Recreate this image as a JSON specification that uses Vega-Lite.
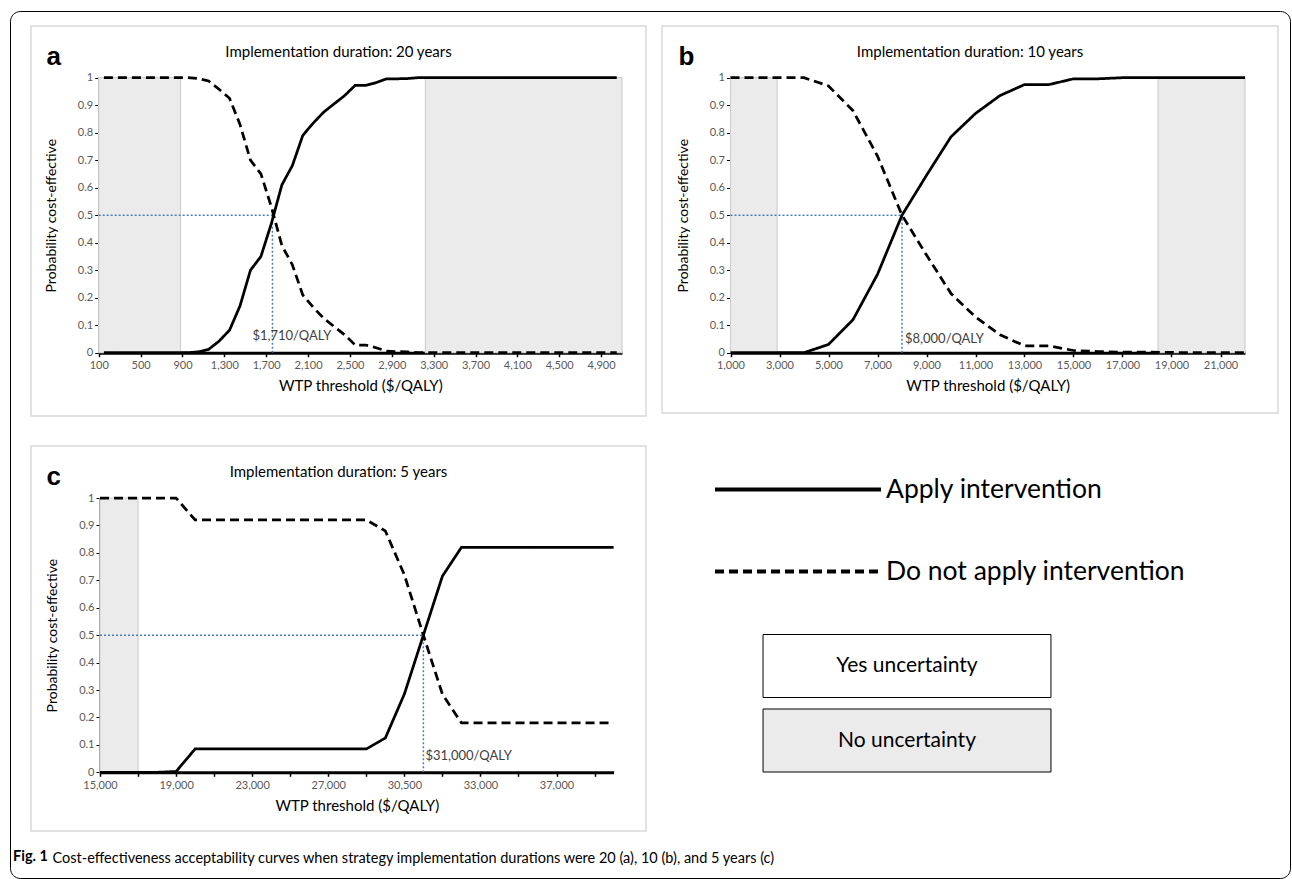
{
"$schema": "https://vega.github.io/schema/vega-lite/v6.json",
"background": "white",
"padding": {"left": 9, "top": 10, "right": 2, "bottom": 2},
"title": {"text": "Fig. 1", "orient": "bottom", "anchor": "start", "frame": "group", "offset": -29, "dx": -18, "fontSize": 14.5, "fontWeight": "bold", "font": "Lato", "color": "black"},
"datasets": {
"curves_a": [
{"wtp":100,"Apply intervention":0,"Do not apply intervention":1},
{"wtp":200,"Apply intervention":0,"Do not apply intervention":1},
{"wtp":300,"Apply intervention":0,"Do not apply intervention":1},
{"wtp":400,"Apply intervention":0,"Do not apply intervention":1},
{"wtp":500,"Apply intervention":0,"Do not apply intervention":1},
{"wtp":600,"Apply intervention":0,"Do not apply intervention":1},
{"wtp":700,"Apply intervention":0,"Do not apply intervention":1},
{"wtp":800,"Apply intervention":0,"Do not apply intervention":1},
{"wtp":900,"Apply intervention":0,"Do not apply intervention":1},
{"wtp":1000,"Apply intervention":0.003,"Do not apply intervention":0.997},
{"wtp":1100,"Apply intervention":0.012,"Do not apply intervention":0.988},
{"wtp":1200,"Apply intervention":0.042,"Do not apply intervention":0.958},
{"wtp":1300,"Apply intervention":0.082,"Do not apply intervention":0.925},
{"wtp":1400,"Apply intervention":0.17,"Do not apply intervention":0.83},
{"wtp":1500,"Apply intervention":0.3,"Do not apply intervention":0.7},
{"wtp":1600,"Apply intervention":0.35,"Do not apply intervention":0.65},
{"wtp":1700,"Apply intervention":0.47,"Do not apply intervention":0.53},
{"wtp":1800,"Apply intervention":0.61,"Do not apply intervention":0.39},
{"wtp":1900,"Apply intervention":0.68,"Do not apply intervention":0.32},
{"wtp":2000,"Apply intervention":0.79,"Do not apply intervention":0.21},
{"wtp":2100,"Apply intervention":0.835,"Do not apply intervention":0.165},
{"wtp":2200,"Apply intervention":0.875,"Do not apply intervention":0.125},
{"wtp":2300,"Apply intervention":0.905,"Do not apply intervention":0.095},
{"wtp":2400,"Apply intervention":0.935,"Do not apply intervention":0.065},
{"wtp":2500,"Apply intervention":0.972,"Do not apply intervention":0.028},
{"wtp":2600,"Apply intervention":0.972,"Do not apply intervention":0.028},
{"wtp":2700,"Apply intervention":0.982,"Do not apply intervention":0.018},
{"wtp":2800,"Apply intervention":0.996,"Do not apply intervention":0.006},
{"wtp":2900,"Apply intervention":0.996,"Do not apply intervention":0.004},
{"wtp":3000,"Apply intervention":0.997,"Do not apply intervention":0.003},
{"wtp":3100,"Apply intervention":1,"Do not apply intervention":0},
{"wtp":3200,"Apply intervention":1,"Do not apply intervention":0},
{"wtp":3300,"Apply intervention":1,"Do not apply intervention":0},
{"wtp":3400,"Apply intervention":1,"Do not apply intervention":0},
{"wtp":3500,"Apply intervention":1,"Do not apply intervention":0},
{"wtp":3600,"Apply intervention":1,"Do not apply intervention":0},
{"wtp":3700,"Apply intervention":1,"Do not apply intervention":0},
{"wtp":3800,"Apply intervention":1,"Do not apply intervention":0},
{"wtp":3900,"Apply intervention":1,"Do not apply intervention":0},
{"wtp":4000,"Apply intervention":1,"Do not apply intervention":0},
{"wtp":4100,"Apply intervention":1,"Do not apply intervention":0},
{"wtp":4200,"Apply intervention":1,"Do not apply intervention":0},
{"wtp":4300,"Apply intervention":1,"Do not apply intervention":0},
{"wtp":4400,"Apply intervention":1,"Do not apply intervention":0},
{"wtp":4500,"Apply intervention":1,"Do not apply intervention":0},
{"wtp":4600,"Apply intervention":1,"Do not apply intervention":0},
{"wtp":4700,"Apply intervention":1,"Do not apply intervention":0},
{"wtp":4800,"Apply intervention":1,"Do not apply intervention":0},
{"wtp":4900,"Apply intervention":1,"Do not apply intervention":0},
{"wtp":5000,"Apply intervention":1,"Do not apply intervention":0}
],
"shade_a": [{"from": 50, "to": 832, "p_lo": 0, "p_hi": 1, "uncertainty": "No uncertainty"}, {"from": 3172, "to": 5050, "p_lo": 0, "p_hi": 1, "uncertainty": "No uncertainty"}],
"cross_a": [{"start": 50, "wtp": 1710, "p": 0.5, "p0": 0, "label_p": 0.06, "label": "$1,710/QALY"}],
"curves_b": [
{"wtp":1000,"Apply intervention":0,"Do not apply intervention":1},
{"wtp":2000,"Apply intervention":0,"Do not apply intervention":1},
{"wtp":3000,"Apply intervention":0,"Do not apply intervention":1},
{"wtp":4000,"Apply intervention":0,"Do not apply intervention":1},
{"wtp":5000,"Apply intervention":0.03,"Do not apply intervention":0.97},
{"wtp":6000,"Apply intervention":0.12,"Do not apply intervention":0.88},
{"wtp":7000,"Apply intervention":0.285,"Do not apply intervention":0.715},
{"wtp":8000,"Apply intervention":0.5,"Do not apply intervention":0.5},
{"wtp":9000,"Apply intervention":0.645,"Do not apply intervention":0.355},
{"wtp":10000,"Apply intervention":0.785,"Do not apply intervention":0.215},
{"wtp":11000,"Apply intervention":0.87,"Do not apply intervention":0.13},
{"wtp":12000,"Apply intervention":0.935,"Do not apply intervention":0.065},
{"wtp":13000,"Apply intervention":0.975,"Do not apply intervention":0.025},
{"wtp":14000,"Apply intervention":0.975,"Do not apply intervention":0.025},
{"wtp":15000,"Apply intervention":0.996,"Do not apply intervention":0.008},
{"wtp":16000,"Apply intervention":0.996,"Do not apply intervention":0.004},
{"wtp":17000,"Apply intervention":1,"Do not apply intervention":0.002},
{"wtp":18000,"Apply intervention":1,"Do not apply intervention":0.002},
{"wtp":19000,"Apply intervention":1,"Do not apply intervention":0.001},
{"wtp":20000,"Apply intervention":1,"Do not apply intervention":0},
{"wtp":21000,"Apply intervention":1,"Do not apply intervention":0},
{"wtp":22000,"Apply intervention":1,"Do not apply intervention":0}
],
"shade_b": [{"from": 1000, "to": 2900, "p_lo": 0, "p_hi": 1, "uncertainty": "No uncertainty"}, {"from": 18450, "to": 22000, "p_lo": 0, "p_hi": 1, "uncertainty": "No uncertainty"}],
"cross_b": [{"start": 1000, "wtp": 8000, "p": 0.5, "p0": 0, "label_p": 0.05, "label": "$8,000/QALY"}],
"curves_c": [
{"wtp":15000,"Apply intervention":0,"Do not apply intervention":1},
{"wtp":16000,"Apply intervention":0,"Do not apply intervention":1},
{"wtp":17000,"Apply intervention":0,"Do not apply intervention":1},
{"wtp":18000,"Apply intervention":0,"Do not apply intervention":1},
{"wtp":19000,"Apply intervention":0.003,"Do not apply intervention":1},
{"wtp":20000,"Apply intervention":0.085,"Do not apply intervention":0.92},
{"wtp":21000,"Apply intervention":0.085,"Do not apply intervention":0.92},
{"wtp":22000,"Apply intervention":0.085,"Do not apply intervention":0.92},
{"wtp":23000,"Apply intervention":0.085,"Do not apply intervention":0.92},
{"wtp":24000,"Apply intervention":0.085,"Do not apply intervention":0.92},
{"wtp":25000,"Apply intervention":0.085,"Do not apply intervention":0.92},
{"wtp":26000,"Apply intervention":0.085,"Do not apply intervention":0.92},
{"wtp":27000,"Apply intervention":0.085,"Do not apply intervention":0.92},
{"wtp":28000,"Apply intervention":0.085,"Do not apply intervention":0.92},
{"wtp":29000,"Apply intervention":0.085,"Do not apply intervention":0.92},
{"wtp":30000,"Apply intervention":0.125,"Do not apply intervention":0.88},
{"wtp":30500,"Apply intervention":0.285,"Do not apply intervention":0.72},
{"wtp":31000,"Apply intervention":0.5,"Do not apply intervention":0.5},
{"wtp":31500,"Apply intervention":0.715,"Do not apply intervention":0.285},
{"wtp":32000,"Apply intervention":0.82,"Do not apply intervention":0.18},
{"wtp":33000,"Apply intervention":0.82,"Do not apply intervention":0.18},
{"wtp":34000,"Apply intervention":0.82,"Do not apply intervention":0.18},
{"wtp":35000,"Apply intervention":0.82,"Do not apply intervention":0.18},
{"wtp":36000,"Apply intervention":0.82,"Do not apply intervention":0.18},
{"wtp":37000,"Apply intervention":0.82,"Do not apply intervention":0.18},
{"wtp":38000,"Apply intervention":0.82,"Do not apply intervention":0.18},
{"wtp":39000,"Apply intervention":0.82,"Do not apply intervention":0.18},
{"wtp":40000,"Apply intervention":0.82,"Do not apply intervention":0.18}
],
"shade_c": [{"from": 15000, "to": 17000, "p_lo": 0, "p_hi": 1, "uncertainty": "No uncertainty"}],
"cross_c": [{"start": 15000, "wtp": 31000, "p": 0.5, "p0": 0, "label_p": 0.058, "label": "$31,000/QALY"}]
},
"resolve": {"scale": {"strokeDash": "independent", "fill": "independent"}, "legend": {"strokeDash": "independent", "fill": "independent"}},
"spacing": 28,
"vconcat": [
{
"spacing": 14,
"hconcat": [
{
"width": 615, "height": 390,
"title": {"text": "Implementation duration: 20 years", "anchor": "middle", "frame": "group", "offset": -34, "fontSize": 15, "fontWeight": "normal", "color": "black", "font": "Lato"},
"resolve": {"axis": {"x": "independent", "y": "independent"}},
"layer": [
{"data": {"name": "shade_a"},
 "mark": {"type": "rect", "stroke": "#d0d0d0", "strokeWidth": 1.2},
 "encoding": {
  "x": {"field": "from", "type": "quantitative", "scale": {"domain": [50, 5050], "range": [67.7, 591], "nice": false, "zero": false}, "axis": null},
  "x2": {"field": "to"},
  "y": {"field": "p_lo", "type": "quantitative", "scale": {"domain": [0, 1], "range": [326.7, 51.7], "nice": false, "zero": false}, "axis": null},
  "y2": {"field": "p_hi"},
  "fill": {"field": "uncertainty", "type": "nominal", "scale": {"domain": ["Yes uncertainty", "No uncertainty"], "range": ["#ffffff", "#ebebeb"]}, "legend": null}}},
{"data": {"name": "cross_a"},
 "mark": {"type": "rule", "color": "#4a7ebb", "strokeWidth": 1.5, "strokeDash": [2, 2]},
 "encoding": {
  "x": {"field": "start", "type": "quantitative", "scale": {"domain": [50, 5050], "range": [67.7, 591], "nice": false, "zero": false}, "axis": null},
  "x2": {"field": "wtp"},
  "y": {"field": "p", "type": "quantitative", "scale": {"domain": [0, 1], "range": [326.7, 51.7], "nice": false, "zero": false}, "axis": null}}},
{"data": {"name": "cross_a"},
 "mark": {"type": "rule", "color": "#4a7ebb", "strokeWidth": 1.5, "strokeDash": [2, 2]},
 "encoding": {
  "x": {"field": "wtp", "type": "quantitative", "scale": {"domain": [50, 5050], "range": [67.7, 591], "nice": false, "zero": false}, "axis": null},
  "y": {"field": "p0", "type": "quantitative", "scale": {"domain": [0, 1], "range": [326.7, 51.7], "nice": false, "zero": false}, "axis": null},
  "y2": {"field": "p"}}},
{"data": {"name": "curves_a"},
 "transform": [{"fold": ["Apply intervention", "Do not apply intervention"], "as": ["strategy", "p"]}],
 "mark": {"type": "line", "color": "black", "strokeWidth": 2.75},
 "encoding": {
  "x": {"field": "wtp", "type": "quantitative", "scale": {"domain": [50, 5050], "range": [67.7, 591], "nice": false, "zero": false},
        "axis": {"orient": "bottom", "offset": -63.3, "values": [100,500,900,1300,1700,2100,2500,2900,3300,3700,4100,4500,4900], "format": ",.0f", "title": "WTP threshold ($/QALY)", "tickOffset": -5.2, "domainWidth": 3, "tickWidth": 1.5, "titlePadding": 8, "labelPadding": 3}},
  "y": {"field": "p", "type": "quantitative", "scale": {"domain": [0, 1], "range": [326.7, 51.7], "nice": false, "zero": false},
        "axis": {"orient": "left", "offset": -67.7, "values": [0,0.1,0.2,0.3,0.4,0.5,0.6,0.7,0.8,0.9,1], "format": ".1~f", "title": "Probability cost-effective", "domainWidth": 2, "titlePadding": 19, "titleFontSize": 14}},
  "strokeDash": {"field": "strategy", "type": "nominal", "scale": {"domain": ["Apply intervention", "Do not apply intervention"], "range": [[1, 0], [9, 5]]}, "legend": null}}},
{"data": {"name": "cross_a"},
 "mark": {"type": "text", "align": "left", "baseline": "middle", "dx": -20, "fontSize": 13, "color": "#404040", "font": "Lato"},
 "encoding": {
  "x": {"field": "wtp", "type": "quantitative", "scale": {"domain": [50, 5050], "range": [67.7, 591], "nice": false, "zero": false},
        "axis": {"orient": "top", "domain": false, "ticks": false, "labels": false, "title": "a", "titleFont": "Liberation Sans", "titleFontWeight": "bold", "titleFontSize": 26, "titleColor": "black", "titleX": 15, "titleY": 38, "titleAlign": "left", "titleBaseline": "alphabetic", "titleAngle": 0}},
  "y": {"field": "label_p", "type": "quantitative", "scale": {"domain": [0, 1], "range": [326.7, 51.7], "nice": false, "zero": false}, "axis": null},
  "text": {"field": "label"}}}
]
},
{
"width": 616, "height": 387,
"title": {"text": "Implementation duration: 10 years", "anchor": "middle", "frame": "group", "offset": -34, "fontSize": 15, "fontWeight": "normal", "color": "black", "font": "Lato"},
"resolve": {"axis": {"x": "independent", "y": "independent"}},
"layer": [
{"data": {"name": "shade_b"},
 "mark": {"type": "rect", "stroke": "#d0d0d0", "strokeWidth": 1.2},
 "encoding": {
  "x": {"field": "from", "type": "quantitative", "scale": {"domain": [1000, 22000], "range": [68.5, 583], "nice": false, "zero": false}, "axis": null},
  "x2": {"field": "to"},
  "y": {"field": "p_lo", "type": "quantitative", "scale": {"domain": [0, 1], "range": [326.7, 51.7], "nice": false, "zero": false}, "axis": null},
  "y2": {"field": "p_hi"},
  "fill": {"field": "uncertainty", "type": "nominal", "scale": {"domain": ["Yes uncertainty", "No uncertainty"], "range": ["#ffffff", "#ebebeb"]}, "legend": null}}},
{"data": {"name": "cross_b"},
 "mark": {"type": "rule", "color": "#4a7ebb", "strokeWidth": 1.5, "strokeDash": [2, 2]},
 "encoding": {
  "x": {"field": "start", "type": "quantitative", "scale": {"domain": [1000, 22000], "range": [68.5, 583], "nice": false, "zero": false}, "axis": null},
  "x2": {"field": "wtp"},
  "y": {"field": "p", "type": "quantitative", "scale": {"domain": [0, 1], "range": [326.7, 51.7], "nice": false, "zero": false}, "axis": null}}},
{"data": {"name": "cross_b"},
 "mark": {"type": "rule", "color": "#4a7ebb", "strokeWidth": 1.5, "strokeDash": [2, 2]},
 "encoding": {
  "x": {"field": "wtp", "type": "quantitative", "scale": {"domain": [1000, 22000], "range": [68.5, 583], "nice": false, "zero": false}, "axis": null},
  "y": {"field": "p0", "type": "quantitative", "scale": {"domain": [0, 1], "range": [326.7, 51.7], "nice": false, "zero": false}, "axis": null},
  "y2": {"field": "p"}}},
{"data": {"name": "curves_b"},
 "transform": [{"fold": ["Apply intervention", "Do not apply intervention"], "as": ["strategy", "p"]}],
 "mark": {"type": "line", "color": "black", "strokeWidth": 2.75},
 "encoding": {
  "x": {"field": "wtp", "type": "quantitative", "scale": {"domain": [1000, 22000], "range": [68.5, 583], "nice": false, "zero": false},
        "axis": {"orient": "bottom", "offset": -60.3, "values": [1000,3000,5000,7000,9000,11000,13000,15000,17000,19000,21000], "format": ",.0f", "title": "WTP threshold ($/QALY)", "domainWidth": 3, "tickWidth": 1.5, "titlePadding": 8, "labelPadding": 3}},
  "y": {"field": "p", "type": "quantitative", "scale": {"domain": [0, 1], "range": [326.7, 51.7], "nice": false, "zero": false},
        "axis": {"orient": "left", "offset": -68.5, "values": [0,0.1,0.2,0.3,0.4,0.5,0.6,0.7,0.8,0.9,1], "format": ".1~f", "title": "Probability cost-effective", "domainWidth": 2, "titlePadding": 19, "titleFontSize": 14}},
  "strokeDash": {"field": "strategy", "type": "nominal", "scale": {"domain": ["Apply intervention", "Do not apply intervention"], "range": [[1, 0], [9, 5]]}, "legend": null}}},
{"data": {"name": "cross_b"},
 "mark": {"type": "text", "align": "left", "baseline": "middle", "dx": 3, "fontSize": 13, "color": "#404040", "font": "Lato"},
 "encoding": {
  "x": {"field": "wtp", "type": "quantitative", "scale": {"domain": [1000, 22000], "range": [68.5, 583], "nice": false, "zero": false},
        "axis": {"orient": "top", "domain": false, "ticks": false, "labels": false, "title": "b", "titleFont": "Liberation Sans", "titleFontWeight": "bold", "titleFontSize": 26, "titleColor": "black", "titleX": 16, "titleY": 38, "titleAlign": "left", "titleBaseline": "alphabetic", "titleAngle": 0}},
  "y": {"field": "label_p", "type": "quantitative", "scale": {"domain": [0, 1], "range": [326.7, 51.7], "nice": false, "zero": false}, "axis": null},
  "text": {"field": "label"}}}
]
}
]
},
{
"width": 615, "height": 385,
"title": {"text": "Implementation duration: 5 years", "anchor": "middle", "frame": "group", "offset": -34, "fontSize": 15, "fontWeight": "normal", "color": "black", "font": "Lato"},
"resolve": {"axis": {"x": "independent", "y": "independent"}},
"layer": [
{"data": {"name": "shade_c"},
 "mark": {"type": "rect", "stroke": "#d0d0d0", "strokeWidth": 1.2},
 "encoding": {
  "x": {"field": "from", "type": "ordinal", "scale": {"type": "point", "domain": [15000,16000,17000,18000,19000,20000,21000,22000,23000,24000,25000,26000,27000,28000,29000,30000,30500,31000,31500,32000,33000,34000,35000,36000,37000,38000,39000,40000], "range": [69, 582.6], "padding": 0}, "axis": null},
  "x2": {"field": "to"},
  "y": {"field": "p_lo", "type": "quantitative", "scale": {"domain": [0, 1], "range": [326.3, 52], "nice": false, "zero": false}, "axis": null},
  "y2": {"field": "p_hi"},
  "fill": {"field": "uncertainty", "type": "nominal", "scale": {"domain": ["Yes uncertainty", "No uncertainty"], "range": ["#ffffff", "#ebebeb"]},
           "legend": {"orient": "none", "legendX": 844, "legendY": 188, "title": null, "symbolType": "M-4.57,-1H4.57V1H-4.57Z", "symbolSize": 3969, "symbolStrokeColor": "black", "symbolStrokeWidth": 1, "labelFontSize": 21, "labelFont": "Lato", "labelColor": "black", "labelAlign": "center", "labelOffset": -32, "labelLimit": 0, "rowPadding": 6.5, "padding": 0,
                      "encode": {"symbols": {"update": {"stroke": {"value": "black"}, "strokeWidth": {"value": 1}}}}}}}},
{"data": {"name": "cross_c"},
 "mark": {"type": "rule", "color": "#4a7ebb", "strokeWidth": 1.5, "strokeDash": [2, 2]},
 "encoding": {
  "x": {"field": "start", "type": "ordinal", "scale": {"type": "point", "domain": [15000,16000,17000,18000,19000,20000,21000,22000,23000,24000,25000,26000,27000,28000,29000,30000,30500,31000,31500,32000,33000,34000,35000,36000,37000,38000,39000,40000], "range": [69, 582.6], "padding": 0}, "axis": null},
  "x2": {"field": "wtp"},
  "y": {"field": "p", "type": "quantitative", "scale": {"domain": [0, 1], "range": [326.3, 52], "nice": false, "zero": false}, "axis": null}}},
{"data": {"name": "cross_c"},
 "mark": {"type": "rule", "color": "#4a7ebb", "strokeWidth": 1.5, "strokeDash": [2, 2]},
 "encoding": {
  "x": {"field": "wtp", "type": "ordinal", "scale": {"type": "point", "domain": [15000,16000,17000,18000,19000,20000,21000,22000,23000,24000,25000,26000,27000,28000,29000,30000,30500,31000,31500,32000,33000,34000,35000,36000,37000,38000,39000,40000], "range": [69, 582.6], "padding": 0}, "axis": null},
  "y": {"field": "p0", "type": "quantitative", "scale": {"domain": [0, 1], "range": [326.3, 52], "nice": false, "zero": false}, "axis": null},
  "y2": {"field": "p"}}},
{"data": {"name": "curves_c"},
 "transform": [{"fold": ["Apply intervention", "Do not apply intervention"], "as": ["strategy", "p"]}],
 "mark": {"type": "line", "color": "black", "strokeWidth": 2.75},
 "encoding": {
  "x": {"field": "wtp", "type": "ordinal", "scale": {"type": "point", "domain": [15000,16000,17000,18000,19000,20000,21000,22000,23000,24000,25000,26000,27000,28000,29000,30000,30500,31000,31500,32000,33000,34000,35000,36000,37000,38000,39000,40000], "range": [69, 582.6], "padding": 0},
        "axis": {"orient": "bottom", "offset": -58.7, "values": [15000,17000,19000,21000,23000,25000,27000,29000,30500,31500,33000,35000,37000,39000], "labelExpr": "indexof([15000,19000,23000,27000,30500,33000,37000], datum.value) >= 0 ? format(datum.value, ',') : ''", "labelAngle": 0, "title": "WTP threshold ($/QALY)", "domainWidth": 3, "tickWidth": 1.5, "titlePadding": 8, "labelPadding": 3}},
  "y": {"field": "p", "type": "quantitative", "scale": {"domain": [0, 1], "range": [326.3, 52], "nice": false, "zero": false},
        "axis": {"orient": "left", "offset": -69, "values": [0,0.1,0.2,0.3,0.4,0.5,0.6,0.7,0.8,0.9,1], "format": ".1~f", "title": "Probability cost-effective", "domainWidth": 2, "titlePadding": 19, "titleFontSize": 14}},
  "strokeDash": {"field": "strategy", "type": "nominal", "scale": {"domain": ["Apply intervention", "Do not apply intervention"], "range": [[1, 0], [9, 5]]},
                 "legend": {"orient": "none", "legendX": 748, "legendY": 24.5, "title": null, "symbolType": "M-5,0H5", "symbolSize": 1102, "symbolStrokeWidth": 4, "symbolStrokeColor": "black", "symbolFillColor": "transparent", "labelFontSize": 26.5, "labelFont": "Lato", "labelColor": "black", "labelOffset": 69, "labelLimit": 0, "rowPadding": 49, "padding": 0,
                            "encode": {"symbols": {"update": {"strokeDash": {"signal": "datum.value === 'Apply intervention' ? [1, 0] : [30, 14]"}, "stroke": {"value": "black"}, "strokeWidth": {"value": 4}}}}}}}},
{"data": {"name": "cross_c"},
 "mark": {"type": "point", "opacity": 0},
 "encoding": {
  "x": {"field": "wtp", "type": "ordinal", "scale": {"type": "point", "domain": [15000,16000,17000,18000,19000,20000,21000,22000,23000,24000,25000,26000,27000,28000,29000,30000,30500,31000,31500,32000,33000,34000,35000,36000,37000,38000,39000,40000], "range": [69, 582.6], "padding": 0},
        "axis": {"orient": "bottom", "domain": false, "ticks": false, "labels": false, "title": "Cost-effectiveness acceptability curves when strategy implementation durations were 20 (a), 10 (b), and 5 years (c)", "titleFont": "Lato", "titleFontWeight": "normal", "titleFontSize": 14.5, "titleColor": "black", "titleX": 21, "titleY": 20, "titleAlign": "left", "titleBaseline": "top", "titleAngle": 0}},
  "y": {"field": "p", "type": "quantitative", "scale": {"domain": [0, 1], "range": [326.3, 52], "nice": false, "zero": false}, "axis": null},
  "color": {"field": "p", "type": "quantitative", "scale": {"domain": [0, 1], "range": ["transparent", "transparent"]},
            "legend": {"type": "gradient", "orient": "none", "legendX": -21, "legendY": -15, "direction": "horizontal", "gradientLength": 1280, "gradientThickness": 867, "gradientStrokeWidth": 0, "gradientStrokeColor": "transparent", "values": [], "title": null, "strokeColor": "black", "cornerRadius": 10, "padding": 0, "labelFontSize": 1}}}},
{"data": {"name": "cross_c"},
 "mark": {"type": "text", "align": "left", "baseline": "middle", "dx": 2, "fontSize": 13, "color": "#404040", "font": "Lato"},
 "encoding": {
  "x": {"field": "wtp", "type": "ordinal", "scale": {"type": "point", "domain": [15000,16000,17000,18000,19000,20000,21000,22000,23000,24000,25000,26000,27000,28000,29000,30000,30500,31000,31500,32000,33000,34000,35000,36000,37000,38000,39000,40000], "range": [69, 582.6], "padding": 0},
        "axis": {"orient": "top", "domain": false, "ticks": false, "labels": false, "title": "c", "titleFont": "Liberation Sans", "titleFontWeight": "bold", "titleFontSize": 26, "titleColor": "black", "titleX": 15, "titleY": 38, "titleAlign": "left", "titleBaseline": "alphabetic", "titleAngle": 0}},
  "y": {"field": "label_p", "type": "quantitative", "scale": {"domain": [0, 1], "range": [326.3, 52], "nice": false, "zero": false}, "axis": null},
  "text": {"field": "label"}}}
]
}
],
"config": {
 "font": "Lato",
 "view": {"stroke": "#d9d9d9", "strokeWidth": 1.5},
 "axis": {"grid": false, "domainColor": "black", "tickColor": "black", "tickSize": 4, "labelColor": "#595959", "labelFontSize": 11, "labelFont": "Lato", "titleFont": "Lato", "titleFontWeight": "normal", "titleFontSize": 15, "titleColor": "black", "labelOverlap": false, "labelFlush": false},
 "legend": {"labelFont": "Lato"}
}
}
